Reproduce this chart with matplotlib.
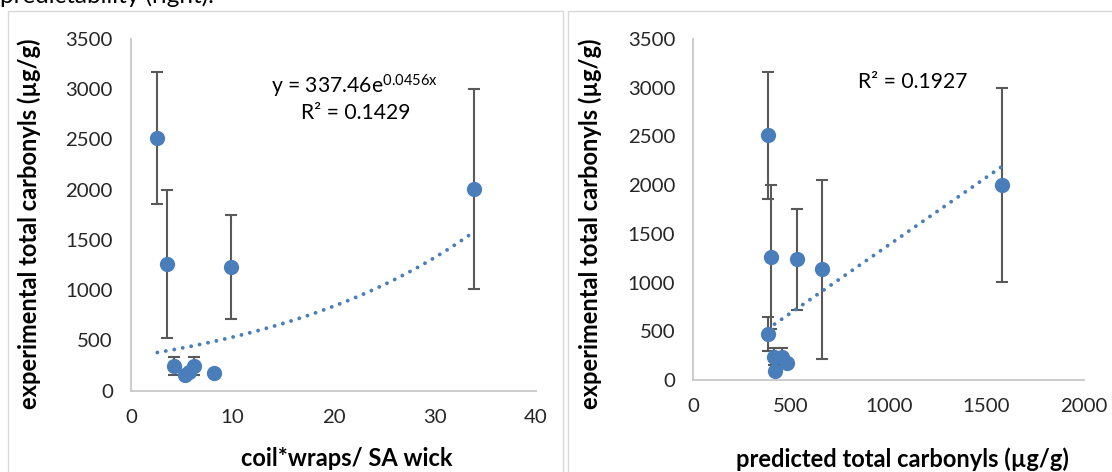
import numpy as np
import matplotlib
matplotlib.use("Agg")
import matplotlib.pyplot as plt
from matplotlib.patches import Rectangle

plt.rcParams['font.family'] = ['Lato', 'DejaVu Sans']
plt.rcParams['mathtext.fontset'] = 'custom'
plt.rcParams['mathtext.rm'] = 'Lato'
plt.rcParams['mathtext.it'] = 'Lato:italic'

# Left chart: coil*wraps per wick surface area vs experimental carbonyls
wick_x = [2.6, 3.6, 9.85, 33.9, 4.2, 5.3, 5.7, 6.2, 8.2]
wick_y = [2515, 1260, 1235, 2005, 248, 160, 190, 242, 172]
wick_err = [655, 738, 518, 995, 90, 0, 0, 90, 0]
exp_a, exp_b = 337.46, 0.0456
wick_r2 = "0.1429"

# Right chart: predicted vs experimental carbonyls
pred_x = [381, 396, 529, 659, 1582, 384, 411, 452, 481, 418]
pred_y = [2510, 1260, 1240, 1135, 2000, 472, 240, 239, 171, 96]
pred_err = [655, 738, 518, 918, 995, 176, 85, 85, 0, 0]
lin_slope, lin_icpt = 1.39, -5.0
pred_r2 = "0.1927"

y_ticks = [0, 500, 1000, 1500, 2000, 2500, 3000, 3500]
wick_ticks = [0, 10, 20, 30, 40]
pred_ticks = [0, 500, 1000, 1500, 2000]

BLUE = '#4A7EBB'
ERR = '#595959'
SPINE = '#C8C8C8'
W, H = 1112, 472

fig = plt.figure(figsize=(W / 100, H / 100), dpi=100)

# chart frames
for x0, x1 in [(8, 563), (568, W + 5)]:
    fig.patches.append(Rectangle((x0 / W, -0.05), (x1 - x0) / W, 1.05 - 11 / H,
                                 transform=fig.transFigure, fill=False,
                                 edgecolor='#D9D9D9', linewidth=1.0))

fig.text(0.0, 1 - 3 / H, "predictability (right).", fontsize=17.5,
         ha='left', va='baseline', color='black')


def style(ax, xticks, xmax):
    ax.set_ylim(0, 3500)
    ax.set_xlim(0, xmax)
    ax.set_yticks(y_ticks)
    ax.set_xticks(xticks)
    for s in ['top', 'right']:
        ax.spines[s].set_visible(False)
    for s in ['left', 'bottom']:
        ax.spines[s].set_color(SPINE)
        ax.spines[s].set_linewidth(1.3)
    ax.tick_params(length=0, labelsize=14.7, colors='#262626', pad=13)
    ax.patch.set_alpha(0)


def draw_points(ax, xs, ys, errs):
    xs, ys, errs = map(np.asarray, (xs, ys, errs))
    m = errs > 0
    ax.errorbar(xs[m], ys[m], yerr=errs[m], fmt='none', ecolor=ERR,
                elinewidth=1.5, capsize=4.5, capthick=1.5, zorder=2)
    ax.plot(xs, ys, 'o', color=BLUE, markersize=11, markeredgewidth=0, zorder=4)


dot_style = dict(color=BLUE, linewidth=2.8, linestyle=(0, (0.01, 2.2)),
                 dash_capstyle='round', zorder=3)

# left axes
ax1 = fig.add_axes([131 / W, 1 - 390.7 / H, 405 / W, (390.7 - 39) / H])
style(ax1, wick_ticks, 40)
xx = np.linspace(min(wick_x), max(wick_x) - 0.5, 200)
ax1.plot(xx, exp_a * np.exp(exp_b * xx), **dot_style)
draw_points(ax1, wick_x, wick_y, wick_err)
ax1.text(355 / W, 1 - 86 / H, "y = 337.46e$^{\\mathrm{0.0456x}}$", transform=fig.transFigure,
         ha='center', va='center', fontsize=15.2)
ax1.text(356 / W, 1 - 113 / H, "R² = " + wick_r2, transform=fig.transFigure,
         ha='center', va='center', fontsize=15.2)

# right axes
ax2 = fig.add_axes([693.3 / W, 1 - 380 / H, (1084 - 693.3) / W, (380 - 39) / H])
style(ax2, pred_ticks, 2000)
xl = np.array([min(pred_x) + 35, max(pred_x) - 7])
ax2.plot(xl, lin_slope * xl + lin_icpt, **dot_style)
draw_points(ax2, pred_x, pred_y, pred_err)
ax2.text(913 / W, 1 - 82 / H, "R² = " + pred_r2, transform=fig.transFigure,
         ha='center', va='center', fontsize=15.2)

# axis titles
lab = dict(fontsize=17, fontweight='bold', color='black', ha='center', va='center')
fig.text(29 / W, 1 - 224 / H, "experimental total carbonyls (µg/g)", rotation=90, **lab)
fig.text(590 / W, 1 - 224 / H, "experimental total carbonyls (µg/g)", rotation=90, **lab)
fig.text(347 / W, 1 - 458 / H, "coil*wraps/ SA wick", **lab)
fig.text(902 / W, 1 - 459 / H, "predicted total carbonyls (µg/g)", **lab)

fig.savefig("out.png", dpi=100)
